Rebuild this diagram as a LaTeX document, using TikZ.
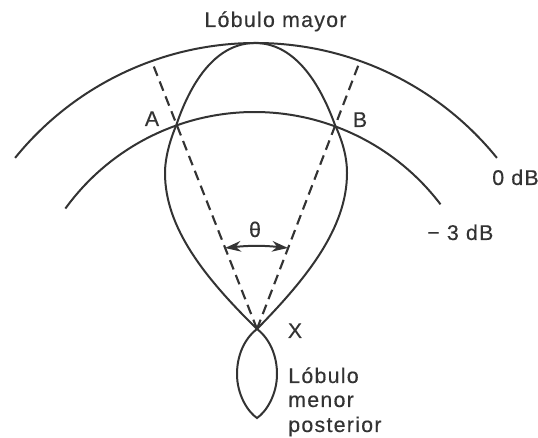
\documentclass[tikz,border=0pt]{standalone}
\usepackage{fontspec}
\setmainfont[LetterSpace=6,FakeBold=0.35]{Liberation Sans}
\usetikzlibrary{arrows.meta}
\colorlet{trazo}{black!80}
\tikzset{
  curva/.style={trazo, line width=1.5pt},
  radio/.style={trazo, line width=1.6pt, dash pattern=on 7.5pt off 4.5pt},
  flecha/.style={trazo, line width=1.5pt, {Stealth[length=12pt,width=8pt]}-{Stealth[length=12pt,width=8pt]}},
  rotulo/.style={trazo, inner sep=0pt, anchor=base, font=\fontsize{16}{18}\selectfont}
}
\begin{document}
\begin{tikzpicture}[x=0.75pt,y=0.75pt]
\useasboundingbox (0,0) rectangle (538,438);
\coordinate (X) at (257,109);
\coordinate (A) at (176,312);
\coordinate (B) at (335,313);
\coordinate (T) at (255,395);
\coordinate (P) at (257,20);
\coordinate (L) at (152,376);
\coordinate (R) at (360,377);
\coordinate (C) at (225,190);
\coordinate (D) at (288,190);
% arcos de nivel
\draw[curva] ([shift={(256,85)}]141:310) arc[start angle=141, end angle=39, radius=310];
\draw[curva] ([shift={(254.5,92.5)}]144.1:233.5) arc[start angle=144.1, end angle=37.2, radius=233.5];
% lobulos
\draw[curva] (X) .. controls (205,160) and (165,210) .. (165,265)
  .. controls (165,280) and (170,298) .. (A)
  .. controls (192,360) and (218,395) .. (T)
  .. controls (292,395) and (318,360) .. (B)
  .. controls (342,298) and (347,282) .. (347,265)
  .. controls (347,210) and (307,160) .. (X);
\draw[curva] (X) .. controls (244,99) and (237,82) .. (237,64)
  .. controls (237,43) and (248,26) .. (P)
  .. controls (266,26) and (277,43) .. (277,64)
  .. controls (277,82) and (270,99) .. (X);
% radios
\draw[radio] (X) -- (L);
\draw[radio] (X) -- (R);
\draw[flecha] (C) to[bend left=6] (D);
\node[rotulo] (mayor) at (275.5,411) {Lóbulo mayor};
\node[rotulo] (a) at (152,312) {A};
\node[rotulo] (b) at (360,311) {B};
\node[rotulo] (x) at (295,100) {X};
\node[rotulo] (theta) at (255,201) {θ};
\node[rotulo, anchor=base west] (cero) at (492,253) {0 dB};
\node[rotulo, anchor=base west] (tres) at (427,198) {− 3 dB};
\node[rotulo, anchor=base west] (lobulo) at (288,55) {Lóbulo};
\node[rotulo, anchor=base west] (menor) at (288,31) {menor};
\node[rotulo, anchor=base west] (posterior) at (288,6) {posterior};
\end{tikzpicture}
\end{document}
